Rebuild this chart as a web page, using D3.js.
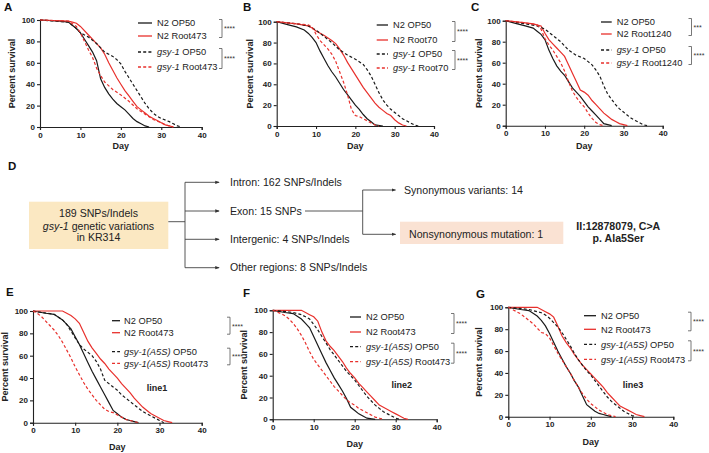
<!DOCTYPE html>
<html><head><meta charset="utf-8">
<script src="https://cdn.jsdelivr.net/npm/d3@7"></script>
<style>body{margin:0;background:#fff;} svg{display:block;font-family:"Liberation Sans",Arial,sans-serif;}</style>
</head><body><svg id="c" width="709" height="453"></svg>
<script>
// ---------- data ----------
const xTicks = [0, 10, 20, 30, 40];
const yTicks = [0, 20, 40, 60, 80, 100];

// Panel A (Root473)
const A_N2_OP50 = [[0,100],[5,99],[7,98],[9,92],[10,88],[11,82],[12,76],[13,70],[14,62],[15,45],[16,37],[17,31],[18,26],[19,22],[20,19],[21,16],[22,12],[23,8],[24,5],[25,3],[26,1],[27,0]];
const A_N2_ROOT = [[0,100],[7,99],[8,98],[9,97],[10,94],[12,86],[14,78],[15,74],[16,68],[17,60],[18,53],[19,46],[20,40],[21,34],[22,29],[23,24],[24,19],[25,16],[26,13],[27,10],[28,8],[29,6],[30,4],[31,2],[32,1],[33,0]];
const A_GSY_OP50 = [[0,100],[7,98],[9,92],[10,88],[12,84],[14,78],[16,70],[18,66],[19,63],[20,59],[21,52],[22,46],[23,40],[24,34],[25,28],[26,22],[27,17],[28,13],[29,10],[30,8],[32,5],[33,3],[34,1],[35,0]];
const A_GSY_ROOT = [[0,100],[7,99],[9,94],[10,88],[11,80],[12,72],[13,65],[14,55],[15,48],[16,42],[18,35],[20,30],[22,24],[24,17],[26,12],[28,7],[30,4],[31,2],[32,1],[33,0]];

// Panel B (Root70)
const B_N2_OP50 = [[0,100],[3,97],[5,95],[7,92],[8,89],[9,85],[10,80],[11,72],[12,65],[13,58],[14,52],[15,47],[16,41],[17,35],[18,30],[19,25],[20,20],[21,16],[22,11],[23,7],[24,4],[25,1],[27,0]];
const B_N2_ROOT = [[0,100],[5,98],[8,96],[9,94],[10,91],[12,87],[14,82],[15,79],[16,74],[17,68],[18,61],[19,55],[20,49],[21,43],[22,37],[23,32],[24,27],[25,22],[26,18],[27,15],[28,12],[29,10],[30,6],[31,3],[32,1],[33,0]];
const B_GSY_OP50 = [[0,100],[5,98],[8,96],[10,92],[12,86],[14,80],[16,73],[18,68],[20,64],[22,59],[23,54],[24,48],[25,40],[26,32],[27,25],[28,20],[29,16],[30,13],[31,10],[32,7],[33,5],[34,3],[35,1],[36,0]];
const B_GSY_ROOT = [[0,100],[5,98],[8,97],[9,95],[10,88],[11,82],[12,78],[13,74],[14,69],[15,62],[16,52],[17,42],[18,30],[19,16],[20,10],[21,9],[22,7],[23,5],[24,3],[25,1],[26,0]];

// Panel C (Root1240)
const C_N2_OP50 = [[0,100],[3,97],[5,95],[7,93],[8,90],[9,87],[10,82],[11,72],[12,64],[13,57],[14,52],[15,48],[16,42],[17,36],[18,32],[19,28],[20,23],[21,18],[22,14],[23,10],[24,6],[25,2],[26,1],[27,0]];
const C_N2_ROOT = [[0,100],[5,98],[7,97],[9,95],[10,88],[11,82],[12,78],[13,74],[14,70],[15,66],[16,58],[17,50],[18,42],[19,34],[20,32],[21,29],[22,24],[23,20],[24,16],[25,12],[26,9],[27,6],[28,4],[29,2],[30,1],[31,0]];
const C_GSY_OP50 = [[0,100],[5,97],[8,95],[10,92],[12,86],[14,80],[16,72],[18,67],[20,64],[21,61],[22,58],[23,53],[24,47],[25,38],[26,30],[27,25],[28,20],[29,16],[30,13],[31,10],[32,7],[33,5],[34,3],[35,1],[36,0]];
const C_GSY_ROOT = [[0,100],[5,98],[8,96],[9,92],[10,83],[11,77],[12,72],[13,66],[14,60],[15,52],[16,42],[17,33],[18,27],[19,22],[20,18],[21,12],[22,7],[23,3],[24,1],[25,0]];

// Panel E (line1)
const E_N2_OP50 = [[0,100],[3,98],[5,97],[7,92],[8,88],[9,84],[10,77],[11,70],[12,62],[13,54],[14,46],[15,39],[16,32],[17,25],[18,18],[19,11],[20,8],[21,5],[22,3],[23,2],[24,1],[25,0]];
const E_N2_ROOT = [[0,100],[7,100],[8,98],[9,96],[10,93],[11,89],[12,81],[13,73],[14,67],[15,62],[16,57],[17,53],[18,48],[19,44],[20,40],[21,35],[22,31],[23,27],[24,22],[25,18],[26,14],[27,11],[28,8],[29,6],[30,4],[31,2],[32,1],[33,0]];
const E_A5S_OP50 = [[0,100],[5,97],[7,92],[8,88],[9,82],[10,76],[11,70],[12,66],[13,63],[14,60],[15,55],[16,48],[17,38],[18,35],[19,32],[20,29],[21,25],[22,22],[23,19],[24,16],[25,13],[26,10],[27,8],[28,6],[29,4],[30,2],[31,0]];
const E_A5S_ROOT = [[0,100],[1,98],[2,95],[3,91],[4,87],[5,83],[6,78],[7,72],[8,65],[9,58],[10,50],[11,43],[12,36],[13,30],[14,25],[15,20],[16,16],[17,12],[18,10],[19,9],[20,7],[21,5],[22,3],[23,2],[24,1],[25,0]];

// Panel F (line2)
const F_N2_OP50 = [[0,100],[3,98],[5,97],[7,92],[8,88],[9,84],[10,76],[11,68],[12,60],[13,52],[14,45],[15,38],[16,32],[17,26],[18,19],[19,11],[20,8],[21,5],[22,3],[23,1],[25,0]];
const F_N2_ROOT = [[0,100],[7,100],[8,98],[9,96],[10,94],[11,90],[12,80],[13,72],[14,67],[15,63],[16,58],[17,53],[18,47],[19,42],[20,38],[21,33],[22,29],[23,25],[24,21],[25,17],[26,13],[27,11],[28,9],[29,7],[30,5],[31,3],[32,1],[33,0]];
const F_A5S_OP50 = [[0,100],[5,98],[7,96],[8,94],[9,92],[10,87],[11,82],[12,76],[13,70],[14,64],[15,59],[16,54],[17,49],[18,44],[19,40],[20,36],[21,31],[22,26],[23,21],[24,17],[25,13],[26,10],[27,7],[28,5],[29,3],[30,1],[31,0]];
const F_A5S_ROOT = [[0,100],[2,97],[3,95],[4,92],[5,88],[6,83],[7,77],[8,70],[9,62],[10,55],[11,50],[12,45],[13,40],[14,35],[15,30],[16,26],[17,22],[18,18],[19,15],[20,13],[21,10],[22,8],[23,6],[24,4],[25,2],[26,1],[27,0]];

// Panel G (line3)
const G_N2_OP50 = [[0,100],[3,98],[5,97],[7,92],[8,88],[9,83],[10,76],[11,68],[12,60],[13,53],[14,46],[15,40],[16,33],[17,27],[18,19],[19,11],[20,8],[21,5],[22,3],[23,2],[24,1],[25,0]];
const G_N2_ROOT = [[0,100],[7,100],[8,98],[9,96],[10,94],[11,91],[12,83],[13,74],[14,68],[15,63],[16,57],[17,52],[18,47],[19,43],[20,39],[21,35],[22,31],[23,27],[24,22],[25,18],[26,14],[27,10],[28,8],[29,6],[30,4],[31,2],[32,1],[33,0]];
const G_A5S_OP50 = [[0,100],[5,98],[7,96],[8,95],[9,93],[10,90],[11,86],[12,82],[13,77],[14,71],[15,65],[16,58],[17,52],[18,47],[19,42],[20,38],[21,33],[22,28],[23,23],[24,18],[25,14],[26,11],[27,8],[28,5],[29,3],[30,1],[31,0]];
const G_A5S_ROOT = [[0,100],[1,98],[2,96],[3,94],[4,91],[5,88],[6,85],[7,81],[8,77],[9,76],[10,72],[11,65],[12,58],[13,52],[14,46],[15,40],[16,33],[17,27],[18,21],[19,16],[20,12],[21,9],[22,6],[23,4],[24,2],[25,1],[26,0]];

// legend labels: [italic part, normal part]
const legendA = [["","N2 OP50"],["","N2 Root473"],["gsy-1"," OP50"],["gsy-1"," Root473"]];
const legendB = [["","N2 OP50"],["","N2 Root70"],["gsy-1"," OP50"],["gsy-1"," Root70"]];
const legendC = [["","N2 OP50"],["","N2 Root1240"],["gsy-1"," OP50"],["gsy-1"," Root1240"]];
const legendEFG = [["","N2 OP50"],["","N2 Root473"],["gsy-1(A5S)"," OP50"],["gsy-1(A5S)"," Root473"]];
const starsA = ["****","****"], starsB = ["****","****"], starsC = ["***","****"], starsEFG = ["****","****"];

// panel D text
const dBoxLines = [["","189 SNPs/Indels"],["gsy-1"," genetic variations"],["","in KR314"]];
const dBranches = ["Intron: 162 SNPs/Indels","Exon: 15 SNPs","Intergenic: 4 SNPs/Indels","Other regions: 8 SNPs/Indels"];
const dSub = ["Synonymous variants: 14","Nonsynonymous mutation: 1"];
const dMut = ["II:12878079, C>A","p. Ala5Ser"];

// ---------- drawing ----------
const RED = "#e8302c", BLK = "#1a1a1a";
const styles = [{c:BLK,d:null},{c:RED,d:null},{c:BLK,d:"3,2.2"},{c:RED,d:"3,2.2"}];
const svg = d3.select("#c");

svg.append("defs").append("marker").attr("id","arr").attr("viewBox","0 0 6 6")
  .attr("refX",5).attr("refY",3).attr("markerWidth",5).attr("markerHeight",5).attr("orient","auto")
  .append("path").attr("d","M0,0.8L6,3L0,5.2Z").attr("fill","#333");

const panels = [
  {lab:"A",lx:4,ly:11,x0:40,x1:201.7,yb:127,yt:20,ylx:12,dayY:149,series:[A_N2_OP50,A_N2_ROOT,A_GSY_OP50,A_GSY_ROOT],
   leg:legendA,lg:{a:138,b:152,t:157,rows:[23,36,52,67],bx:222,stars:starsA}},
  {lab:"B",lx:243,ly:11,x0:276.7,x1:434,yb:126,yt:21.7,ylx:250,dayY:149,series:[B_N2_OP50,B_N2_ROOT,B_GSY_OP50,B_GSY_ROOT],
   leg:legendB,lg:{a:376.7,b:388,t:393,rows:[25,40,54,68],bx:455,stars:starsB}},
  {lab:"C",lx:471,ly:11,x0:505.7,x1:662.7,yb:125.7,yt:20.7,ylx:478.5,dayY:149,series:[C_N2_OP50,C_N2_ROOT,C_GSY_OP50,C_GSY_ROOT],
   leg:legendC,lg:{a:601,b:611.7,t:616.7,rows:[22,34,50,63],bx:691.5,stars:starsC}},
  {lab:"E",lx:6,ly:296,x0:33,x1:201.7,yb:422.7,yt:311,ylx:5,dayY:450,note:"line1",nx:157,ny:391,series:[E_N2_OP50,E_N2_ROOT,E_A5S_OP50,E_A5S_ROOT],
   leg:legendEFG,lg:{a:112,b:120,t:124,rows:[320.7,332.7,351.7,363.3],bx:230,stars:starsEFG}},
  {lab:"F",lx:243,ly:297,x0:272.7,x1:436.7,yb:419.3,yt:310.3,ylx:243.5,dayY:447,note:"line2",nx:401.7,ny:388,series:[F_N2_OP50,F_N2_ROOT,F_A5S_OP50,F_A5S_ROOT],
   leg:legendEFG,lg:{a:350,b:361,t:366,rows:[317,332,346.7,361.7],bx:454,stars:starsEFG}},
  {lab:"G",lx:476,ly:298,x0:508.3,x1:673.3,yb:416.7,yt:307.3,ylx:479,dayY:445,note:"line3",nx:633,ny:388,series:[G_N2_OP50,G_N2_ROOT,G_A5S_OP50,G_A5S_ROOT],
   leg:legendEFG,lg:{a:584,b:596,t:601,rows:[315.7,329.3,344.3,359.3],bx:691,stars:starsEFG}}
];

function richText(sel, parts) {
  sel.append("tspan").attr("font-style","italic").text(parts[0]);
  sel.append("tspan").text(parts[1]);
}

panels.forEach(p => {
  const g = svg.append("g");
  const x = d3.scaleLinear().domain([0,40]).range([p.x0,p.x1]);
  const y = d3.scaleLinear().domain([0,100]).range([p.yb,p.yt]);

  g.append("text").attr("x",p.lx).attr("y",p.ly).attr("font-size",11.5).attr("font-weight","bold").attr("fill","#111").text(p.lab);

  const xa = g.append("g").attr("transform",`translate(0,${p.yb})`)
    .call(d3.axisBottom(x).tickValues(xTicks).tickSize(3).tickPadding(2).tickFormat(d3.format("d")));
  const ya = g.append("g").attr("transform",`translate(${p.x0},0)`)
    .call(d3.axisLeft(y).tickValues(yTicks).tickSize(3).tickPadding(2).tickFormat(d3.format("d")));
  [xa,ya].forEach(a => {
    a.select(".domain").attr("stroke","#222").attr("stroke-width",1.1);
    a.selectAll(".tick line").attr("stroke","#222").attr("stroke-width",1.1);
    a.selectAll(".tick text").attr("font-size",8).attr("font-weight","bold").attr("fill","#222").attr("font-family","'Liberation Sans',Arial,sans-serif");
  });

  g.append("text").attr("transform",`translate(${p.ylx+3},${(p.yt+p.yb)/2}) rotate(-90)`)
    .attr("text-anchor","middle").attr("font-size",9).attr("font-weight","bold").attr("fill","#222").text("Percent survival");
  g.append("text").attr("x",(p.x0+p.x1)/2).attr("y",p.dayY).attr("text-anchor","middle")
    .attr("font-size",9).attr("font-weight","bold").attr("fill","#222").text("Day");

  const line = d3.line().x(d=>x(d[0])).y(d=>y(d[1])).curve(d3.curveLinear);
  p.series.forEach((s,i) => {
    g.append("path").datum(s).attr("d",line).attr("fill","none")
      .attr("stroke",styles[i].c).attr("stroke-width",1.2).attr("stroke-dasharray",styles[i].d);
  });

  // legend
  p.leg.forEach((lab,i) => {
    const yy = p.lg.rows[i];
    g.append("line").attr("x1",p.lg.a).attr("x2",p.lg.b).attr("y1",yy).attr("y2",yy)
      .attr("stroke",styles[i].c).attr("stroke-width",1.3).attr("stroke-dasharray",styles[i].d);
    const t = g.append("text").attr("x",p.lg.t).attr("y",yy+3.3).attr("font-size",9.3).attr("fill","#222");
    richText(t, lab);
  });
  // brackets
  [[0,1],[2,3]].forEach((pr,k) => {
    const ya0 = p.lg.rows[pr[0]]-3.5, ya1 = p.lg.rows[pr[1]]+1.5;
    g.append("path").attr("d",`M${p.lg.bx-3},${ya0}H${p.lg.bx}V${ya1}H${p.lg.bx-3}`)
      .attr("fill","none").attr("stroke","#555").attr("stroke-width",0.8);
    g.append("text").attr("x",p.lg.bx+2).attr("y",(ya0+ya1)/2+2.8).attr("font-size",7).attr("fill","#333").text(p.lg.stars[k]);
  });

  if (p.note) {
    g.append("text").attr("x",p.nx).attr("y",p.ny).attr("text-anchor","middle").attr("font-size",9)
      .attr("font-weight","bold").attr("fill","#222").text(p.note);
  }
});

// ---------- panel D ----------
const FS = 10.6;
const gd = svg.append("g");
gd.append("text").attr("x",8).attr("y",170).attr("font-size",11.5).attr("font-weight","bold").attr("fill","#111").text("D");
gd.append("rect").attr("x",29).attr("y",201.7).attr("width",139.3).attr("height",47.3).attr("fill","#fbe8c2");
dBoxLines.forEach((l,i) => {
  const t = gd.append("text").attr("x",98.5).attr("y",[216.8,229.8,241.3][i]).attr("text-anchor","middle")
    .attr("font-size",FS).attr("fill","#222");
  richText(t,l);
});
const branchY = [182.3,211,239.3,267.7];
const stroke = s => s.attr("stroke","#444").attr("stroke-width",0.9).attr("fill","none");
stroke(gd.append("path").attr("d",`M168.3,221.7H185`));
stroke(gd.append("path").attr("d",`M185,${branchY[0]}V${branchY[3]}`));
branchY.forEach((yy,i) => {
  stroke(gd.append("line").attr("x1",185).attr("x2",219).attr("y1",yy).attr("y2",yy)).attr("marker-end","url(#arr)");
  gd.append("text").attr("x",230).attr("y",yy+3.7).attr("font-size",FS).attr("fill","#222").text(dBranches[i]);
});
// exon branch
stroke(gd.append("path").attr("d",`M305,211H362.7`));
const subY = [190,234.3];
stroke(gd.append("path").attr("d",`M362.7,${subY[0]}V${subY[1]}`));
gd.append("rect").attr("x",400).attr("y",221.7).attr("width",163.3).attr("height",22.3).attr("fill","#fae2d3");
subY.forEach((yy,i) => {
  stroke(gd.append("line").attr("x1",362.7).attr("x2",395.5).attr("y1",yy).attr("y2",yy)).attr("marker-end","url(#arr)");
  gd.append("text").attr("x",[404,409][i]).attr("y",yy+3.7).attr("font-size",FS).attr("fill","#222").text(dSub[i]);
});
dMut.forEach((m,i) => {
  gd.append("text").attr("x",618.3).attr("y",[229.5,241.5][i]).attr("text-anchor","middle")
    .attr("font-size",FS).attr("font-weight","bold").attr("fill","#222").text(m);
});
</script></body></html>
